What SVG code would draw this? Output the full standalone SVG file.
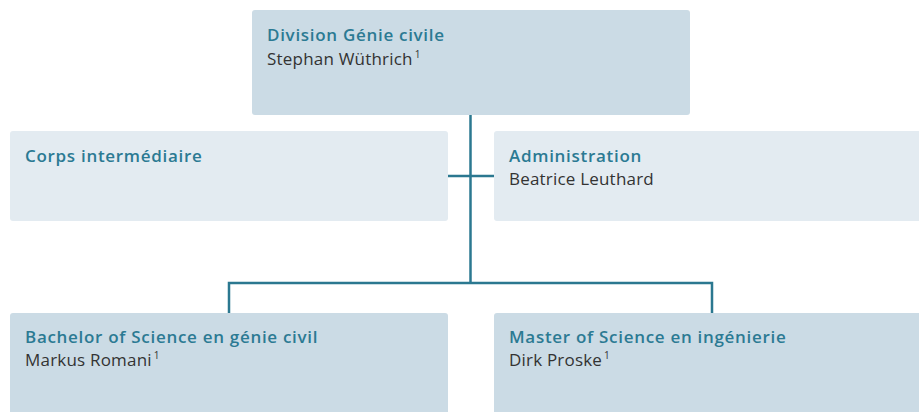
<svg xmlns="http://www.w3.org/2000/svg" width="919" height="412" viewBox="0 0 919 412">
<style>
.dark{fill:#cbdbe5}
.light{fill:#e3ebf1}
.t{font-family:"Open Sans","Noto Sans",sans-serif;font-weight:600;font-size:17px;letter-spacing:0.7px;fill:#2b7a93}
.n{font-family:"Open Sans","Noto Sans",sans-serif;font-size:17px;letter-spacing:0.2px;fill:#333333}
.sup{font-size:10px}
.c{stroke:#2b7890;stroke-width:2.5;fill:none}
</style>
<rect width="919" height="412" fill="#ffffff"/>
<g id="connectors">
<path class="c" d="M470.5 115V283"/>
<path class="c" d="M448 176H494"/>
<path class="c" d="M229 313V283H712V313"/>
</g>
<g id="division">
<rect class="dark" x="252" y="10" width="438" height="105" rx="3"/>
<text class="t" x="267" y="41">Division Génie civile</text>
<text class="n" x="267" y="65">Stephan Wüthrich<tspan class="sup" dx="2" dy="-7">1</tspan></text>
</g>
<g id="corps">
<rect class="light" x="10" y="131" width="438" height="90" rx="3"/>
<text class="t" x="25" y="162">Corps intermédiaire</text>
</g>
<g id="administration">
<rect class="light" x="494" y="131" width="430" height="90" rx="3"/>
<text class="t" x="509" y="162">Administration</text>
<text class="n" x="509" y="185">Beatrice Leuthard</text>
</g>
<g id="bachelor">
<rect class="dark" x="10" y="313" width="438" height="110" rx="3"/>
<text class="t" x="25" y="343">Bachelor of Science en génie civil</text>
<text class="n" x="25" y="366">Markus Romani<tspan class="sup" dx="2" dy="-7">1</tspan></text>
</g>
<g id="master">
<rect class="dark" x="494" y="313" width="430" height="110" rx="3"/>
<text class="t" x="509" y="343">Master of Science en ingénierie</text>
<text class="n" x="509" y="366">Dirk Proske<tspan class="sup" dx="2" dy="-7">1</tspan></text>
</g>
</svg>
